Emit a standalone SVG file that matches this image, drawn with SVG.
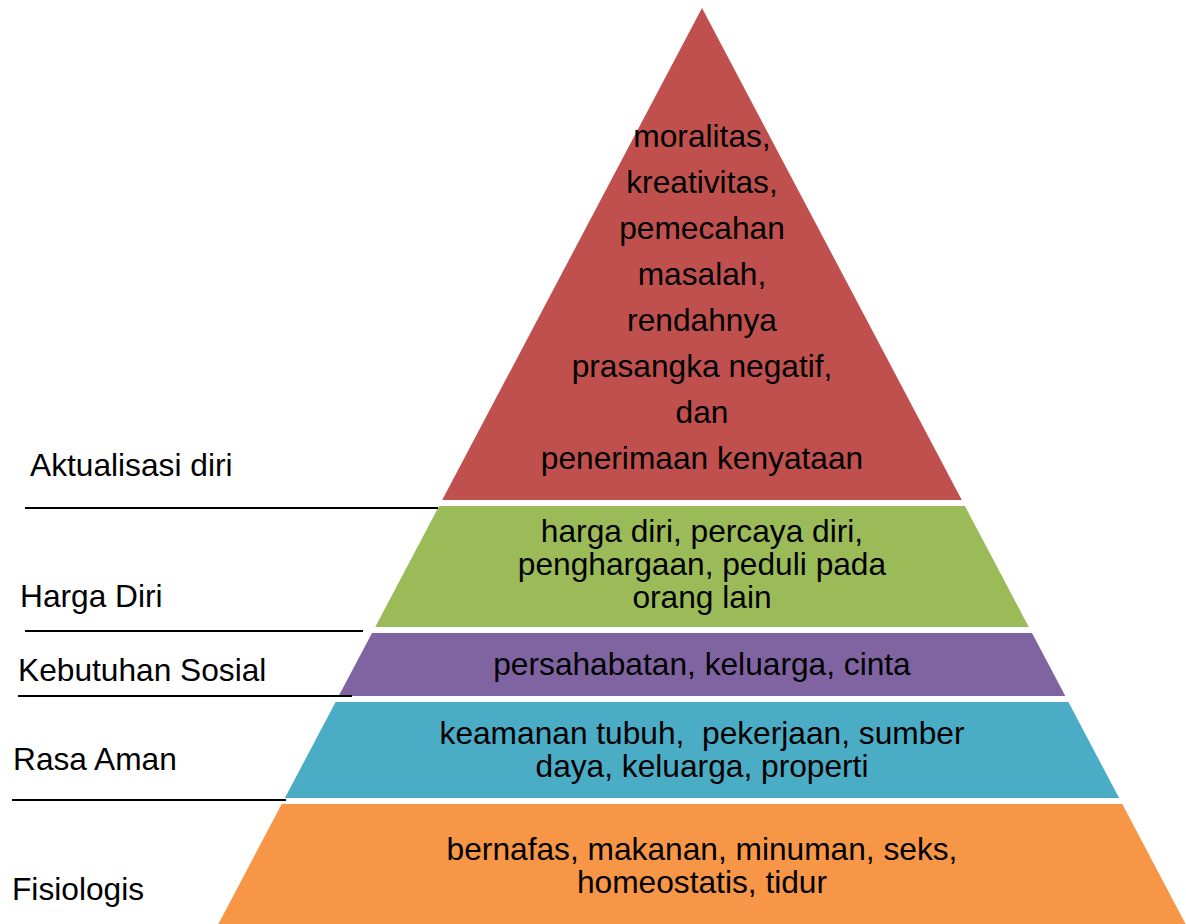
<svg xmlns="http://www.w3.org/2000/svg" width="1186" height="924" viewBox="0 0 1186 924">
<style>
text { font-family: "Liberation Sans", Arial, sans-serif; font-size: 31.7px; fill: #000; }
.c { text-anchor: middle; }
.ln { stroke: #000; stroke-width: 2; fill: none; }
</style>
<rect width="1186" height="924" fill="#fff"/>
<g id="layer-aktualisasi">
<polygon points="702,8 961.8,500 442.2,500" fill="#C0504D"/>
<text class="c" x="702" y="147">moralitas,</text>
<text class="c" x="702" y="193">kreativitas,</text>
<text class="c" x="702" y="239">pemecahan</text>
<text class="c" x="702" y="285">masalah,</text>
<text class="c" x="702" y="331">rendahnya</text>
<text class="c" x="702" y="377">prasangka negatif,</text>
<text class="c" x="702" y="423">dan</text>
<text class="c" x="702" y="469">penerimaan kenyataan</text>
</g>
<g id="layer-harga-diri">
<polygon points="439.1,506 964.9,506 1028.8,627 375.2,627" fill="#9BBB59"/>
<text class="c" x="702" y="542">harga diri, percaya diri,</text>
<text class="c" x="702" y="575">penghargaan, peduli pada</text>
<text class="c" x="702" y="608">orang lain</text>
</g>
<g id="layer-sosial">
<polygon points="372,633 1032,633 1065.3,696 338.7,696" fill="#8064A2"/>
<text class="c" x="702" y="675">persahabatan, keluarga, cinta</text>
</g>
<g id="layer-aman">
<polygon points="335.6,702 1068.4,702 1119.1,798 284.9,798" fill="#4BACC6"/>
<text class="c" x="702" y="744" xml:space="preserve">keamanan tubuh,  pekerjaan, sumber</text>
<text class="c" x="702" y="777">daya, keluarga, properti</text>
</g>
<g id="layer-fisiologis">
<polygon points="281.7,804 1122.3,804 1185.6,924 218.4,924" fill="#F79646"/>
<text class="c" x="702" y="860">bernafas, makanan, minuman, seks,</text>
<text class="c" x="702" y="893">homeostatis, tidur</text>
</g>
<g id="label-aktualisasi"><text x="30" y="476">Aktualisasi diri</text></g>
<g id="label-harga-diri"><text x="20" y="607">Harga Diri</text></g>
<g id="label-sosial"><text x="18" y="681">Kebutuhan Sosial</text></g>
<g id="label-aman"><text x="13" y="770">Rasa Aman</text></g>
<g id="label-fisiologis"><text x="12" y="900">Fisiologis</text></g>
<g id="connectors">
<line class="ln" x1="25" y1="508" x2="438" y2="508"/>
<line class="ln" x1="25" y1="631" x2="363" y2="631"/>
<line class="ln" x1="18" y1="696" x2="352" y2="696"/>
<line class="ln" x1="12" y1="800" x2="286" y2="800"/>
</g>
</svg>
